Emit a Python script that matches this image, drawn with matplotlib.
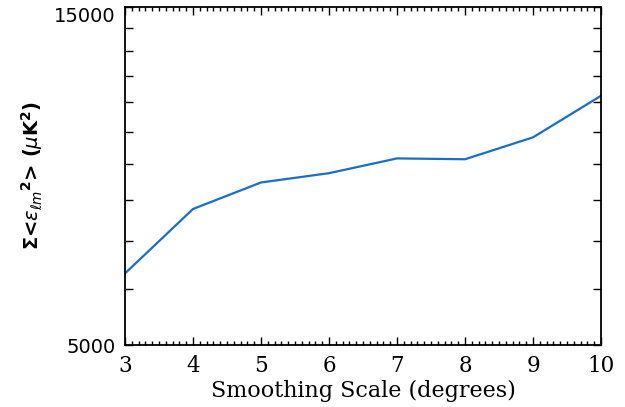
import numpy as np
import matplotlib
matplotlib.use("Agg")
import matplotlib.pyplot as plt
from matplotlib.ticker import FixedLocator, NullFormatter, MultipleLocator

# smoothing scale vs summed error power
scale = [3, 4, 5, 6, 7, 8, 9, 10]
err_sum = [6310, 7780, 8480, 8740, 9170, 9145, 9820, 11240]

figure = plt.figure(figsize=(6.25, 4.07), dpi=100)
axis = figure.add_axes([0.2, 0.1523, 0.7616, 0.8305])

axis.plot(scale, err_sum, color="#1a6ec4", linewidth=1.6)

axis.set_yscale("log")
axis.set_xlim(3, 10)
axis.set_ylim(5000, 15000)

axis.yaxis.set_major_locator(FixedLocator([5000, 15000]))
axis.yaxis.set_minor_locator(FixedLocator(np.arange(6000, 15000, 1000)))
axis.yaxis.set_minor_formatter(NullFormatter())
axis.set_yticklabels(["5000", "15000"], fontsize=14)
# IDL puts the end labels a bit inside the box
ylabs = axis.get_yticklabels()
ylabs[0].set_verticalalignment("center_baseline")
ylabs[1].set_verticalalignment("top")

axis.xaxis.set_major_locator(MultipleLocator(1))
axis.xaxis.set_minor_locator(MultipleLocator(0.1))
for lab in axis.get_xticklabels():
    lab.set_fontfamily("DejaVu Serif")
    lab.set_fontsize(15.5)

axis.tick_params(which="both", direction="in", top=True, right=True, width=1)
axis.tick_params(which="major", length=6)
axis.tick_params(axis="x", which="major", pad=7)
axis.tick_params(axis="y", which="major", pad=7)
axis.tick_params(which="minor", length=3)
axis.tick_params(axis="y", which="minor", length=6)
for sp in axis.spines.values():
    sp.set_linewidth(1.3)

axis.set_xlabel("Smoothing Scale (degrees)", fontsize=16, family="DejaVu Serif", labelpad=2)
axis.set_ylabel(r"$\mathbf{\Sigma}$<$\epsilon_{\ell m}{}^{\mathbf{2}}$> ($\mu$K$^{\mathbf{2}}$)",
                fontsize=14, fontweight="bold", labelpad=6)

figure.savefig("out.png", dpi=100)
